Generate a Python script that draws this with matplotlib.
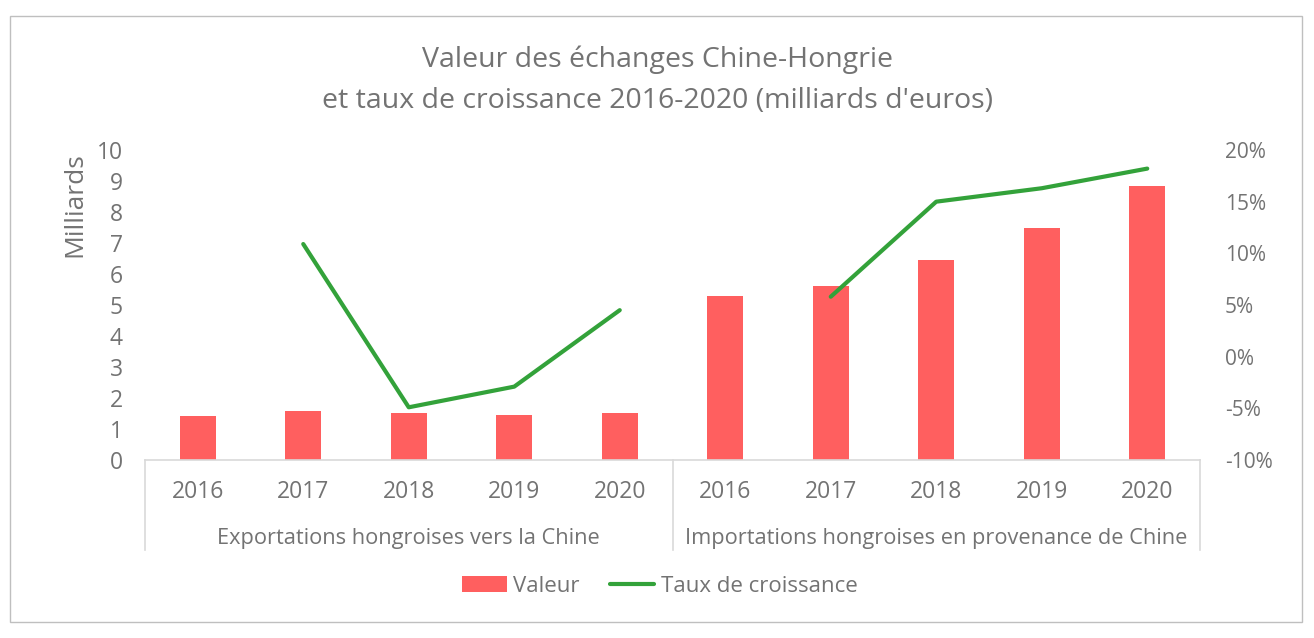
import matplotlib
matplotlib.use("Agg")
import matplotlib.pyplot as plt
import numpy as np
from matplotlib.lines import Line2D
from matplotlib.patches import Patch, Rectangle

plt.rcParams['font.family'] = ['Open Sans', 'DejaVu Sans']

years = ["2016", "2017", "2018", "2019", "2020"]
groups = ["Exportations hongroises vers la Chine", "Importations hongroises en provenance de Chine"]
export_values = [1.42, 1.58, 1.52, 1.45, 1.52]
import_values = [5.29, 5.61, 6.45, 7.48, 8.84]
export_growth = [np.nan, 10.9, -4.9, -2.9, 4.5]
import_growth = [np.nan, 5.8, 15.0, 16.3, 18.2]

TXT = '#737373'
BAR = '#FF5F5F'
LINE = '#33A23A'
GRID = '#D9D9D9'

fig = plt.figure(figsize=(13.14, 6.38), dpi=100)
fig.patches.append(Rectangle((10/1314, 16/638), 1292/1314, 606/638, transform=fig.transFigure,
                             fill=False, edgecolor='#BFBFBF', linewidth=1.0))

ax = fig.add_axes([145/1314, 1-460/638, 1055/1314, 310/638])
ax2 = ax.twinx()

values = export_values + import_values
x = np.arange(len(values))
ax.bar(x, values, width=0.34, color=BAR, zorder=2)
ax2.plot(x[:5], export_growth, color=LINE, lw=3, solid_capstyle='round', solid_joinstyle='round')
ax2.plot(x[5:], import_growth, color=LINE, lw=3, solid_capstyle='round', solid_joinstyle='round')

ax.set_xlim(-0.5, 9.5)
ax.set_ylim(0, 10)
ax.set_yticks(range(0, 11))
ax2.set_ylim(-10, 20)
ax2.set_yticks(range(-10, 21, 5))
ax2.set_yticklabels([f"{v}%" for v in range(-10, 21, 5)])

for a in (ax, ax2):
    for s in a.spines.values():
        s.set_visible(False)
    a.tick_params(axis='y', length=0, labelcolor=TXT)
ax.tick_params(axis='y', pad=16, labelsize=16.5)
ax2.tick_params(axis='y', pad=18, labelsize=15)
ax.set_xticks([])

ax.spines['bottom'].set_visible(True)
ax.spines['bottom'].set_color(GRID)
ax.spines['bottom'].set_linewidth(1.2)

# category labels
for i, xv in enumerate(x):
    ax.text(xv, -0.103, (years + years)[i], transform=ax.get_xaxis_transform(),
            ha='center', va='center', fontsize=16.5, color=TXT)
for g, c in enumerate([2, 7]):
    ax.text(c, -0.253, groups[g], transform=ax.get_xaxis_transform(),
            ha='center', va='center', fontsize=15.7, color=TXT)
for xs in [-0.5, 4.5, 9.5]:
    ax.add_line(Line2D([xs, xs], [0, -0.29], transform=ax.get_xaxis_transform(),
                       color=GRID, lw=1.2, clip_on=False))

fig.text(0.5, 1-60/638, "Valeur des échanges Chine-Hongrie", ha='center', va='center',
         fontsize=20.5, color=TXT)
fig.text(0.5, 1-101/638, "et taux de croissance 2016-2020 (milliards d'euros)", ha='center', va='center',
         fontsize=20.5, color=TXT)
fig.text(75/1314, 1-205/638, "Milliards", rotation=90, ha='center', va='center', fontsize=19, color=TXT)

handles = [Patch(facecolor=BAR, edgecolor='none'),
           Line2D([0], [0], color=LINE, lw=3, solid_capstyle='round')]
fig.legend(handles, ["Valeur", "Taux de croissance"], loc='center', bbox_to_anchor=(660/1314, 1-586/638),
           ncol=2, frameon=False, fontsize=16, labelcolor=TXT, handlelength=2.0, handletextpad=0.3,
           columnspacing=1.35)

fig.savefig("out.png", dpi=100)
